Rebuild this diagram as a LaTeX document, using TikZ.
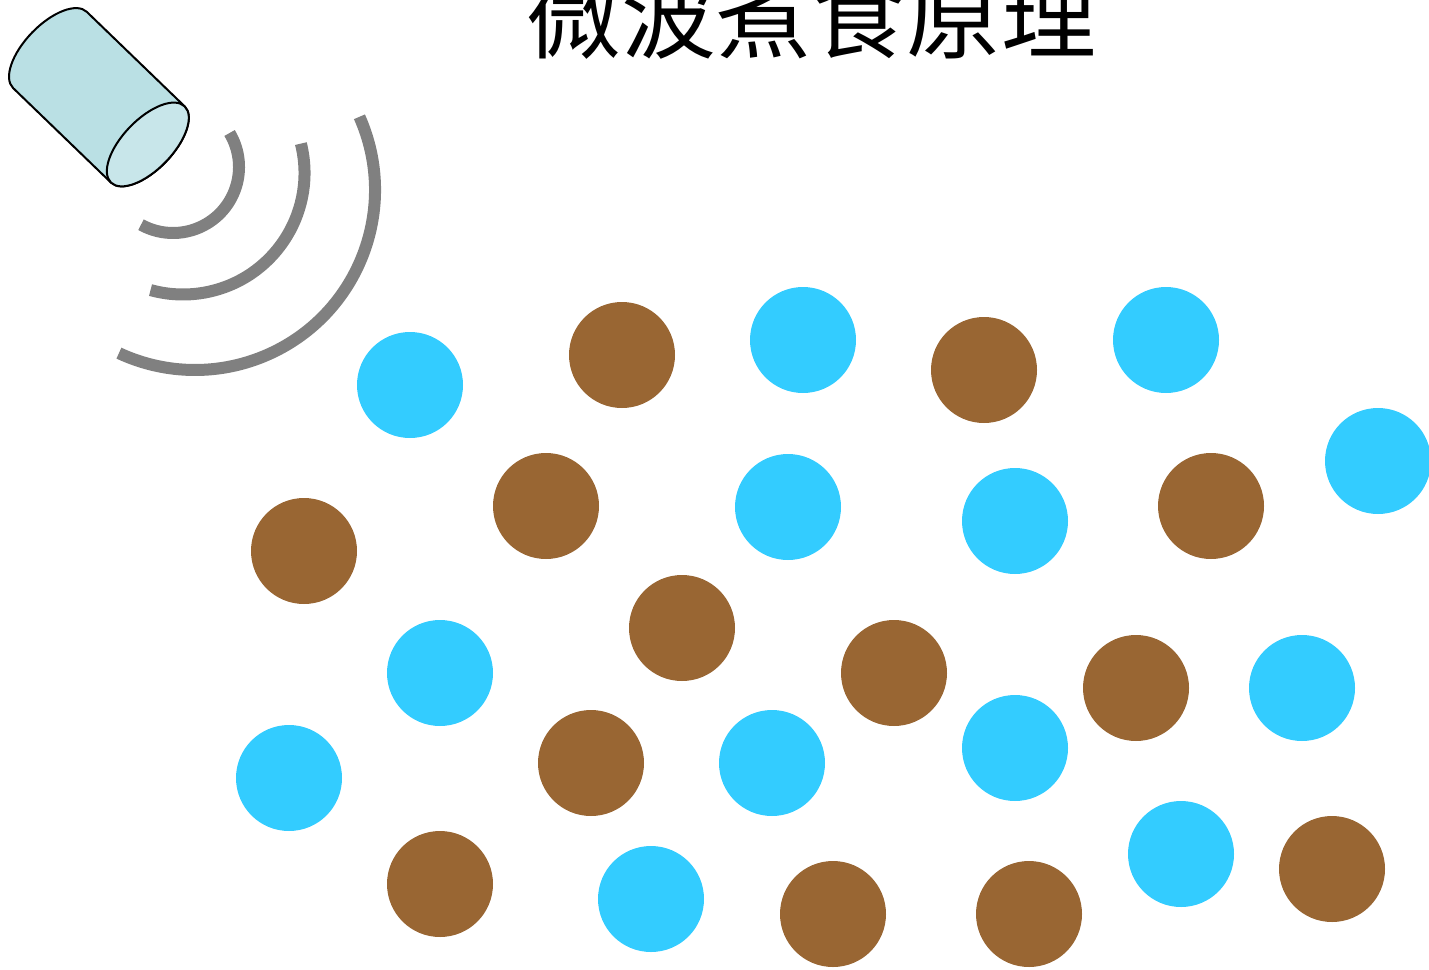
\documentclass[tikz,border=0pt]{standalone}
\usepackage{fontspec}
\newfontfamily\cjkfont{Noto Sans CJK TC}
\definecolor{water}{HTML}{33CCFF}
\definecolor{food}{HTML}{996633}
\definecolor{wave}{HTML}{808080}
\definecolor{tube}{HTML}{BAE0E4}
\definecolor{tubeend}{HTML}{C8E6EA}
\tikzset{
  h2o/.style={circle, fill=water, inner sep=0pt, minimum size=106pt},
  mol/.style={circle, fill=food, inner sep=0pt, minimum size=106pt},
  ray/.style={draw=wave, line width=12pt},
  body/.style={draw=black, line width=2pt, line join=round},
  title/.style={font=\cjkfont\fontsize{95}{95}\selectfont, anchor=base, inner sep=0pt},
}

\begin{document}
\begin{tikzpicture}[x=1pt,y=-1pt]
  \useasboundingbox (0,0) rectangle (1429,969);
  \clip (0,0) rectangle (1429,969);
  \node[title] (head) at (811,51) {微波煮食原理};
  % emitter, tilted down to the right
  \begin{scope}[shift={(50,50)}, rotate=-44]
    \pgfmathsetmacro{\L}{136}
    \pgfmathsetmacro{\a}{53}
    \pgfmathsetmacro{\b}{25}
    \filldraw[body, fill=tube] (0,-\a) -- (\L,-\a)
      arc[start angle=-90, end angle=90, x radius=\b, y radius=\a]
      -- (0,\a) arc[start angle=90, end angle=270, x radius=\b, y radius=\a] -- cycle;
    \filldraw[body, fill=tubeend] (\L,0) ellipse[x radius=\b, y radius=\a];
  \end{scope}
  % waves
  \coordinate (w1) at (173,167);
  \coordinate (w2) at (183,173);
  \coordinate (w3) at (195,190);
  \draw[ray] ([shift={(-31:66)}]w1) arc[start angle=-31, end angle=119, radius=66];
  \draw[ray] ([shift={(-14:121.5)}]w2) arc[start angle=-14, end angle=105.5, radius=121.5];
  \draw[ray] ([shift={(-24:180)}]w3) arc[start angle=-24, end angle=115, radius=180];
  % water molecules
  \foreach \x/\y [count=\i] in {410/385, 803/340, 1166/340, 1378/461, 788/507,
      1015/521, 440/673, 1302/688, 289/778, 772/763, 1015/748, 1181/854, 651/899}
    \node[h2o] (h\i) at (\x,\y) {};
  % food molecules
  \foreach \x/\y [count=\i] in {622/355, 984/370, 546/506, 304/551, 1211/506,
      682/628, 894/673, 1136/688, 591/763, 440/884, 833/914, 1029/914, 1332/869}
    \node[mol] (f\i) at (\x,\y) {};
\end{tikzpicture}
\end{document}
